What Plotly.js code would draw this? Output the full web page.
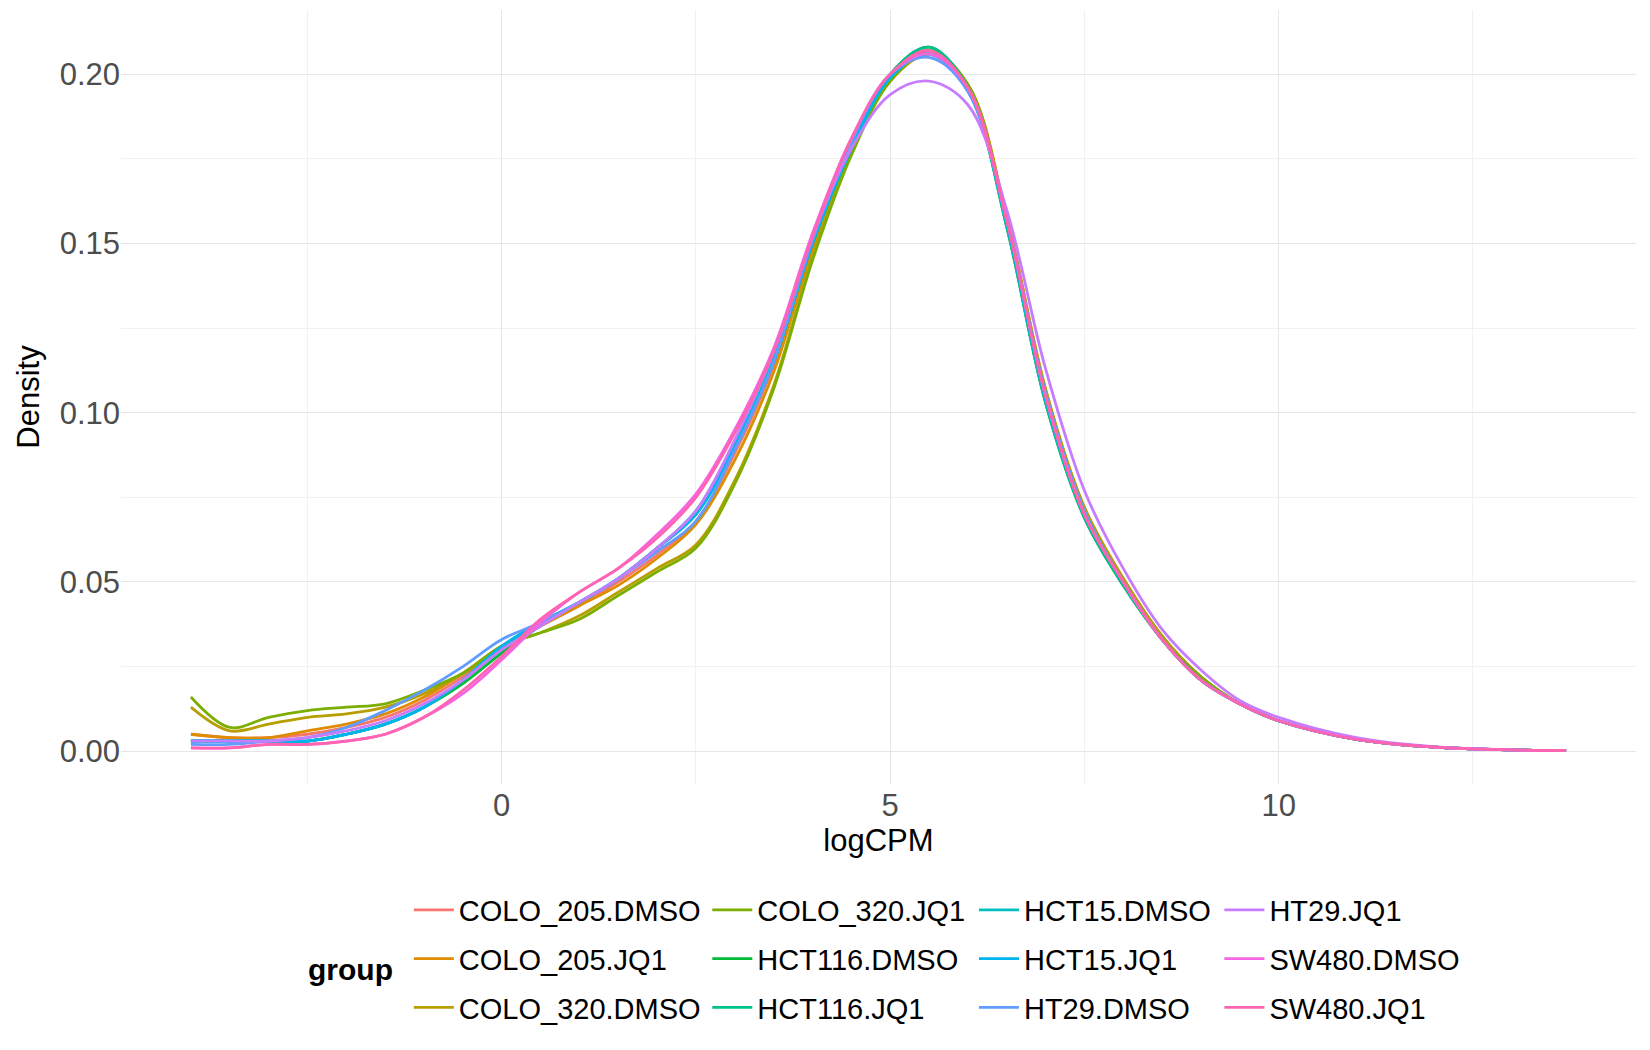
<!DOCTYPE html>
<html><head><meta charset="utf-8">
<script src="https://cdn.plot.ly/plotly-3.0.1.min.js"></script>
<style>body{margin:0;background:#fff}</style></head>
<body><div id="c" style="width:1650px;height:1050px"></div>
<script>
const xs = [-4,-3.5,-3,-2.5,-2,-1.5,-1,-0.5,0,0.5,1,1.5,2,2.5,3,3.5,4,4.5,5,5.5,6,6.5,7,7.5,8,8.5,9,9.5,10,11,12,13,13.7];
const groups = ["COLO_205.DMSO","COLO_205.JQ1","COLO_320.DMSO","COLO_320.JQ1","HCT116.DMSO","HCT116.JQ1","HCT15.DMSO","HCT15.JQ1","HT29.DMSO","HT29.JQ1","SW480.DMSO","SW480.JQ1"];
const colors = ["#F8766D","#DE8C00","#B79F00","#7CAE00","#00BA38","#00C08B","#00BFC4","#00B4F0","#619CFF","#C77CFF","#F564E3","#FF64B0"];
const dens = [
 [0.005,0.004,0.004,0.005,0.007,0.010,0.015,0.022,0.031,0.037,0.043,0.050,0.058,0.068,0.088,0.114,0.150,0.178,0.199,0.207,0.196,0.157,0.106,0.072,0.051,0.034,0.022,0.014,0.009,0.0035,0.0012,0.0004,0.0002],
 [0.005,0.004,0.004,0.006,0.008,0.011,0.016,0.023,0.031,0.037,0.043,0.049,0.057,0.067,0.086,0.112,0.148,0.177,0.198,0.207,0.197,0.158,0.107,0.072,0.051,0.034,0.022,0.014,0.009,0.0035,0.0012,0.0004,0.0002],
 [0.013,0.006,0.008,0.010,0.011,0.013,0.017,0.023,0.031,0.035,0.040,0.047,0.054,0.061,0.080,0.108,0.146,0.177,0.198,0.206,0.197,0.158,0.107,0.072,0.051,0.034,0.022,0.014,0.009,0.0035,0.0012,0.0004,0.0002],
 [0.016,0.007,0.010,0.012,0.013,0.014,0.018,0.023,0.031,0.035,0.039,0.046,0.053,0.060,0.079,0.107,0.145,0.176,0.198,0.207,0.197,0.157,0.106,0.071,0.050,0.033,0.022,0.014,0.009,0.0035,0.0012,0.0004,0.0002],
 [0.003,0.003,0.003,0.003,0.005,0.008,0.013,0.020,0.029,0.037,0.044,0.051,0.060,0.070,0.090,0.115,0.150,0.178,0.200,0.208,0.196,0.155,0.103,0.069,0.049,0.033,0.021,0.014,0.009,0.0035,0.0012,0.0004,0.0002],
 [0.003,0.003,0.003,0.003,0.005,0.008,0.013,0.021,0.030,0.038,0.044,0.051,0.060,0.070,0.090,0.115,0.150,0.178,0.200,0.208,0.196,0.155,0.103,0.069,0.049,0.033,0.021,0.014,0.009,0.0035,0.0012,0.0004,0.0002],
 [0.003,0.003,0.003,0.003,0.005,0.008,0.013,0.021,0.031,0.038,0.044,0.051,0.060,0.071,0.091,0.116,0.151,0.178,0.199,0.206,0.195,0.156,0.104,0.070,0.050,0.033,0.021,0.014,0.009,0.0035,0.0012,0.0004,0.0002],
 [0.003,0.003,0.003,0.003,0.005,0.008,0.013,0.021,0.031,0.038,0.044,0.051,0.060,0.070,0.090,0.115,0.150,0.178,0.199,0.206,0.196,0.156,0.104,0.070,0.050,0.033,0.021,0.014,0.009,0.0035,0.0012,0.0004,0.0002],
 [0.002,0.002,0.003,0.004,0.007,0.012,0.018,0.025,0.033,0.038,0.044,0.051,0.059,0.068,0.089,0.115,0.151,0.180,0.200,0.205,0.195,0.157,0.106,0.071,0.050,0.033,0.021,0.014,0.009,0.0035,0.0012,0.0004,0.0002],
 [0.003,0.003,0.003,0.004,0.006,0.009,0.014,0.021,0.030,0.037,0.044,0.051,0.060,0.071,0.092,0.118,0.152,0.178,0.194,0.198,0.191,0.160,0.113,0.077,0.054,0.036,0.024,0.015,0.010,0.004,0.0013,0.0004,0.0002],
 [0.001,0.001,0.002,0.002,0.003,0.005,0.010,0.017,0.027,0.038,0.047,0.054,0.064,0.076,0.095,0.119,0.153,0.181,0.200,0.206,0.196,0.157,0.105,0.070,0.050,0.033,0.021,0.014,0.009,0.0035,0.0012,0.0004,0.0002],
 [0.001,0.001,0.002,0.002,0.003,0.005,0.010,0.018,0.028,0.039,0.047,0.054,0.063,0.075,0.094,0.118,0.152,0.181,0.200,0.207,0.196,0.157,0.105,0.070,0.050,0.033,0.021,0.014,0.009,0.0035,0.0012,0.0004,0.0002]
];
const legendCols = [[0,1,2],[3,4,5],[6,7,8],[9,10,11]];
const legendIds = ["legend","legend2","legend3","legend4"];
const traces = groups.map((g,i)=>{
  const col = legendCols.findIndex(c=>c.includes(i));
  return {x:xs,y:dens[i],name:g,type:'scatter',mode:'lines',legendgroup:g,
    line:{color:colors[i],width:2.8,shape:'spline',smoothing:1},
    legend:legendIds[col]};
});
const legX=[0.19,0.387,0.563,0.725];
const legBase={orientation:'v',yanchor:'top',y:-0.13,xanchor:'left',tracegroupgap:8,
  font:{family:'Liberation Sans, Arial',size:29,color:'#000'},bgcolor:'rgba(0,0,0,0)',itemwidth:40};
const layout={
  width:1650,height:1050,paper_bgcolor:'#fff',plot_bgcolor:'#fff',
  margin:{l:121,r:14,t:10,b:266},
  font:{family:'Liberation Sans, Arial'},
  xaxis:{range:[-4.9,14.6],tick0:0,dtick:5,zeroline:false,gridcolor:'#e6e6e6',gridwidth:1.3,
    minor:{tick0:0,dtick:2.5,showgrid:true,gridcolor:'#f1f1f1',gridwidth:1},
    tickfont:{size:31,color:'#4d4d4d'},ticks:'',
    title:{text:'logCPM',font:{size:31,color:'#000'},standoff:6}},
  yaxis:{range:[-0.0097,0.219],tick0:0,dtick:0.05,tickformat:'.2f',zeroline:false,gridcolor:'#e6e6e6',gridwidth:1.3,
    minor:{tick0:0,dtick:0.025,showgrid:true,gridcolor:'#f1f1f1',gridwidth:1},
    tickfont:{size:31,color:'#4d4d4d'},ticks:'',
    title:{text:'Density',font:{size:31,color:'#000'},standoff:10}},
  annotations:[{text:'<b>group</b>',xref:'paper',yref:'paper',x:0.181,y:-0.24,xanchor:'right',yanchor:'middle',
    showarrow:false,font:{size:30,color:'#000'}}]
};
legendIds.forEach((id,k)=>{layout[id]=Object.assign({},legBase,{x:legX[k]});});
Plotly.newPlot('c',traces,layout,{displayModeBar:false});
</script></body></html>
